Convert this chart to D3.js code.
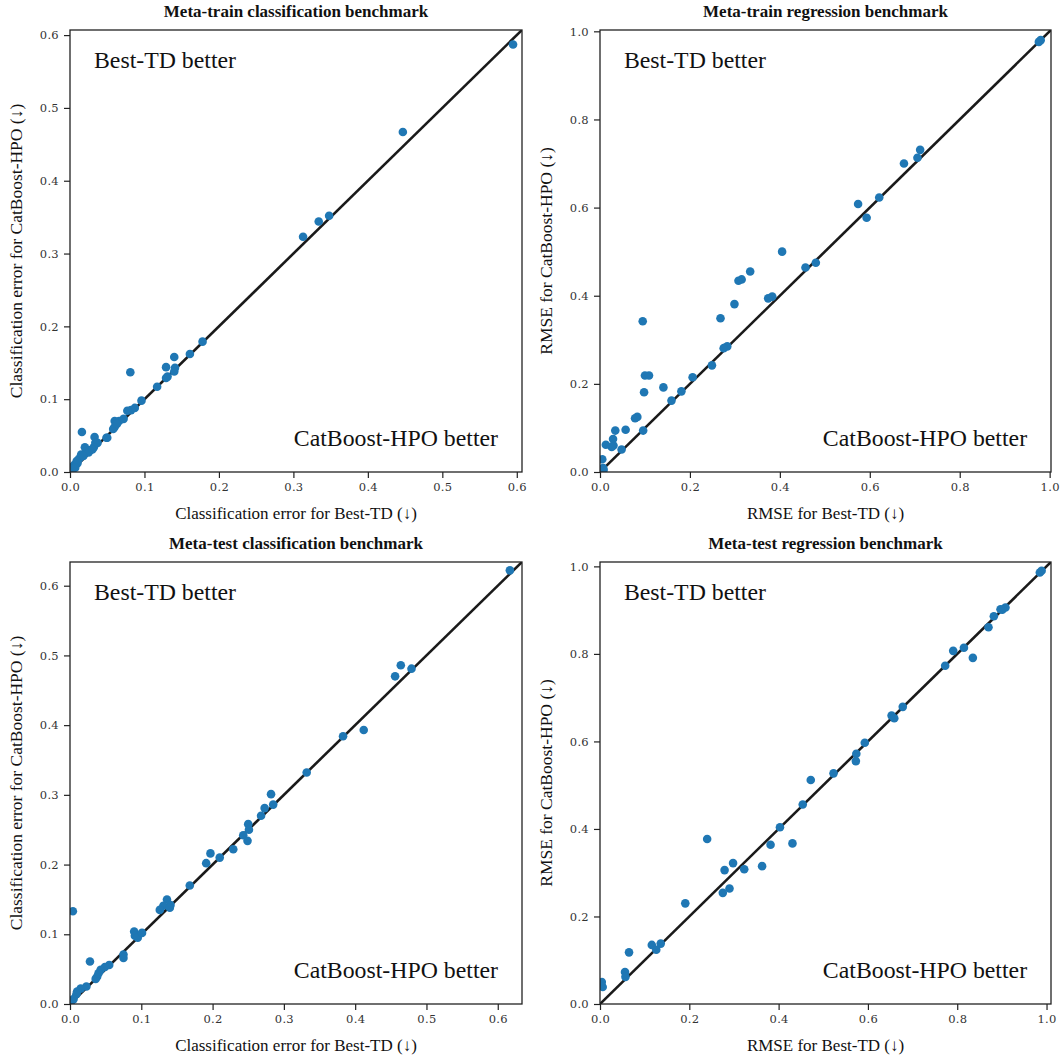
<!DOCTYPE html>
<html>
<head>
<meta charset="utf-8">
<script src="https://cdn.jsdelivr.net/npm/d3@7"></script>
<style>
  html, body { margin: 0; padding: 0; background: #fff; }
  svg { display: block; }
</style>
</head>
<body>
<svg id="chart" width="1063" height="1061"></svg>
<script>
// ---------- Data ----------
const titles = [
  "Meta-train classification benchmark",
  "Meta-train regression benchmark",
  "Meta-test classification benchmark",
  "Meta-test regression benchmark"
];
const xLabels = [
  "Classification error for Best-TD (↓)",
  "RMSE for Best-TD (↓)",
  "Classification error for Best-TD (↓)",
  "RMSE for Best-TD (↓)"
];
const yLabels = [
  "Classification error for CatBoost-HPO (↓)",
  "RMSE for CatBoost-HPO (↓)",
  "Classification error for CatBoost-HPO (↓)",
  "RMSE for CatBoost-HPO (↓)"
];
const axisLimits = [0.607, 1.003, 0.634, 1.01];
const tickValuesClf = [0.0, 0.1, 0.2, 0.3, 0.4, 0.5, 0.6];
const tickValuesReg = [0.0, 0.2, 0.4, 0.6, 0.8, 1.0];

// [Best-TD, CatBoost-HPO]
const metaTrainClf = [
  [0.595,0.587],[0.447,0.467],[0.313,0.323],[0.334,0.344],[0.348,0.352],
  [0.178,0.179],[0.161,0.162],[0.140,0.158],[0.129,0.144],[0.141,0.143],
  [0.140,0.138],[0.131,0.131],[0.129,0.129],[0.117,0.117],[0.081,0.137],
  [0.096,0.098],[0.087,0.088],[0.082,0.085],[0.077,0.084],[0.072,0.073],
  [0.066,0.070],[0.060,0.070],[0.060,0.062],[0.058,0.059],[0.049,0.047],
  [0.016,0.055],[0.033,0.048],[0.034,0.040],[0.037,0.040],[0.032,0.034],
  [0.027,0.030],[0.020,0.034],[0.022,0.028],[0.015,0.024],[0.012,0.018],
  [0.009,0.015],[0.006,0.010],[0.003,0.007],[0.002,0.004],[0.004,0.005],
  [0.025,0.027],[0.018,0.022],[0.030,0.031],[0.010,0.012],[0.007,0.006],
  [0.063,0.066],[0.050,0.047]
];
const metaTrainReg = [
  [0.976,0.976],[0.980,0.980],[0.712,0.731],[0.706,0.713],[0.676,0.700],
  [0.621,0.623],[0.574,0.608],[0.593,0.577],[0.405,0.500],[0.480,0.475],
  [0.457,0.464],[0.334,0.455],[0.315,0.437],[0.308,0.434],[0.299,0.381],
  [0.383,0.398],[0.374,0.394],[0.268,0.349],[0.095,0.342],[0.283,0.285],
  [0.275,0.281],[0.249,0.242],[0.206,0.215],[0.100,0.219],[0.109,0.219],
  [0.141,0.192],[0.098,0.181],[0.181,0.183],[0.159,0.162],[0.083,0.125],
  [0.078,0.122],[0.096,0.094],[0.057,0.096],[0.034,0.094],[0.029,0.075],
  [0.030,0.060],[0.026,0.057],[0.048,0.051],[0.013,0.062],[0.005,0.029],
  [0.007,0.009],[0.008,0.005]
];
const metaTestClf = [
  [0.617,0.622],[0.464,0.486],[0.456,0.470],[0.479,0.481],[0.412,0.393],
  [0.383,0.384],[0.332,0.332],[0.282,0.301],[0.285,0.286],[0.273,0.281],
  [0.268,0.270],[0.250,0.258],[0.251,0.250],[0.243,0.242],[0.249,0.234],
  [0.229,0.222],[0.197,0.216],[0.191,0.202],[0.210,0.210],[0.168,0.170],
  [0.136,0.150],[0.131,0.141],[0.126,0.135],[0.141,0.142],[0.140,0.138],
  [0.004,0.133],[0.090,0.104],[0.091,0.098],[0.095,0.095],[0.101,0.102],
  [0.075,0.071],[0.075,0.066],[0.028,0.061],[0.055,0.056],[0.049,0.053],
  [0.043,0.049],[0.038,0.039],[0.036,0.036],[0.040,0.044],[0.023,0.025],
  [0.015,0.022],[0.010,0.018],[0.009,0.014],[0.005,0.007],[0.002,0.004]
];
const metaTestReg = [
  [0.985,0.986],[0.989,0.990],[0.908,0.906],[0.901,0.901],[0.897,0.902],
  [0.882,0.886],[0.870,0.861],[0.815,0.814],[0.791,0.807],[0.835,0.791],
  [0.773,0.773],[0.678,0.679],[0.653,0.659],[0.659,0.653],[0.593,0.597],
  [0.574,0.572],[0.573,0.555],[0.523,0.527],[0.472,0.512],[0.454,0.456],
  [0.403,0.404],[0.382,0.364],[0.431,0.367],[0.240,0.377],[0.298,0.322],
  [0.279,0.306],[0.323,0.308],[0.363,0.315],[0.290,0.264],[0.275,0.254],
  [0.191,0.230],[0.116,0.135],[0.136,0.138],[0.126,0.124],[0.065,0.118],
  [0.056,0.073],[0.057,0.062],[0.004,0.050],[0.006,0.039]
];
const panelData = [metaTrainClf, metaTrainReg, metaTestClf, metaTestReg];
const panelTicks = [tickValuesClf, tickValuesReg, tickValuesClf, tickValuesReg];
const upperText = "Best-TD better";
const lowerText = "CatBoost-HPO better";

// ---------- Layout ----------
const boxes = [
  {left: 70,  top: 30,  width: 452, height: 442},
  {left: 600, top: 30,  width: 451, height: 442},
  {left: 70,  top: 562, width: 452, height: 442},
  {left: 600, top: 562, width: 451, height: 442}
];
const serif = "'Liberation Serif', 'Times New Roman', serif";
const tickFont = "'DejaVu Serif', serif";

const svg = d3.select("#chart");

boxes.forEach((b, i) => {
  const lim = axisLimits[i];
  const x = d3.scaleLinear().domain([0, lim]).range([0, b.width]);
  const y = d3.scaleLinear().domain([0, lim]).range([b.height, 0]);
  const g = svg.append("g").attr("transform", `translate(${b.left},${b.top})`);

  // clip
  const clipId = "clip" + i;
  g.append("clipPath").attr("id", clipId)
    .append("rect").attr("width", b.width).attr("height", b.height);

  // diagonal
  g.append("line")
    .attr("clip-path", `url(#${clipId})`)
    .attr("x1", x(0)).attr("y1", y(0))
    .attr("x2", x(lim)).attr("y2", y(lim))
    .attr("stroke", "#1a1a1a").attr("stroke-width", 2.6);

  // points
  g.append("g").attr("clip-path", `url(#${clipId})`)
    .selectAll("circle").data(panelData[i]).join("circle")
    .attr("cx", d => x(d[0])).attr("cy", d => y(d[1]))
    .attr("r", 4.3).attr("fill", "#1f77b4");

  // axes
  const fmt = d3.format(".1f");
  const xAxis = g.append("g").attr("transform", `translate(0,${b.height})`)
    .call(d3.axisBottom(x).tickValues(panelTicks[i]).tickFormat(fmt).tickSize(6).tickPadding(5));
  const yAxis = g.append("g")
    .call(d3.axisLeft(y).tickValues(panelTicks[i]).tickFormat(fmt).tickSize(6).tickPadding(5));
  [xAxis, yAxis].forEach(a => {
    a.select(".domain").remove();
    a.selectAll(".tick line").attr("stroke", "#222").attr("stroke-width", 1.2);
    a.selectAll(".tick text").attr("font-family", tickFont).attr("font-size", 11.5)
      .attr("fill", "#333").attr("letter-spacing", "0.3px");
  });

  // frame
  g.append("rect").attr("width", b.width).attr("height", b.height)
    .attr("fill", "none").attr("stroke", "#222").attr("stroke-width", 1.3);

  // title
  g.append("text").attr("x", b.width / 2).attr("y", -13)
    .attr("text-anchor", "middle").attr("font-family", serif)
    .attr("font-weight", "bold").attr("font-size", 17).attr("fill", "#111")
    .text(titles[i]);

  // x label
  g.append("text").attr("x", b.width / 2).attr("y", b.height + 47)
    .attr("text-anchor", "middle").attr("font-family", serif)
    .attr("font-size", 17).attr("fill", "#111").text(xLabels[i]);

  // y label
  g.append("text")
    .attr("transform", `translate(-48,${b.height / 2}) rotate(-90)`)
    .attr("text-anchor", "middle").attr("font-family", serif)
    .attr("font-size", 17.5).attr("fill", "#111").text(yLabels[i]);

  // annotations
  g.append("text").attr("x", b.width * 0.053).attr("y", 38)
    .attr("font-family", serif).attr("font-size", 23.8).attr("fill", "#111")
    .text(upperText);
  g.append("text").attr("x", b.width * 0.947).attr("y", b.height - 26)
    .attr("text-anchor", "end")
    .attr("font-family", serif).attr("font-size", 23.8).attr("fill", "#111")
    .text(lowerText);
});
</script>
</body>
</html>
